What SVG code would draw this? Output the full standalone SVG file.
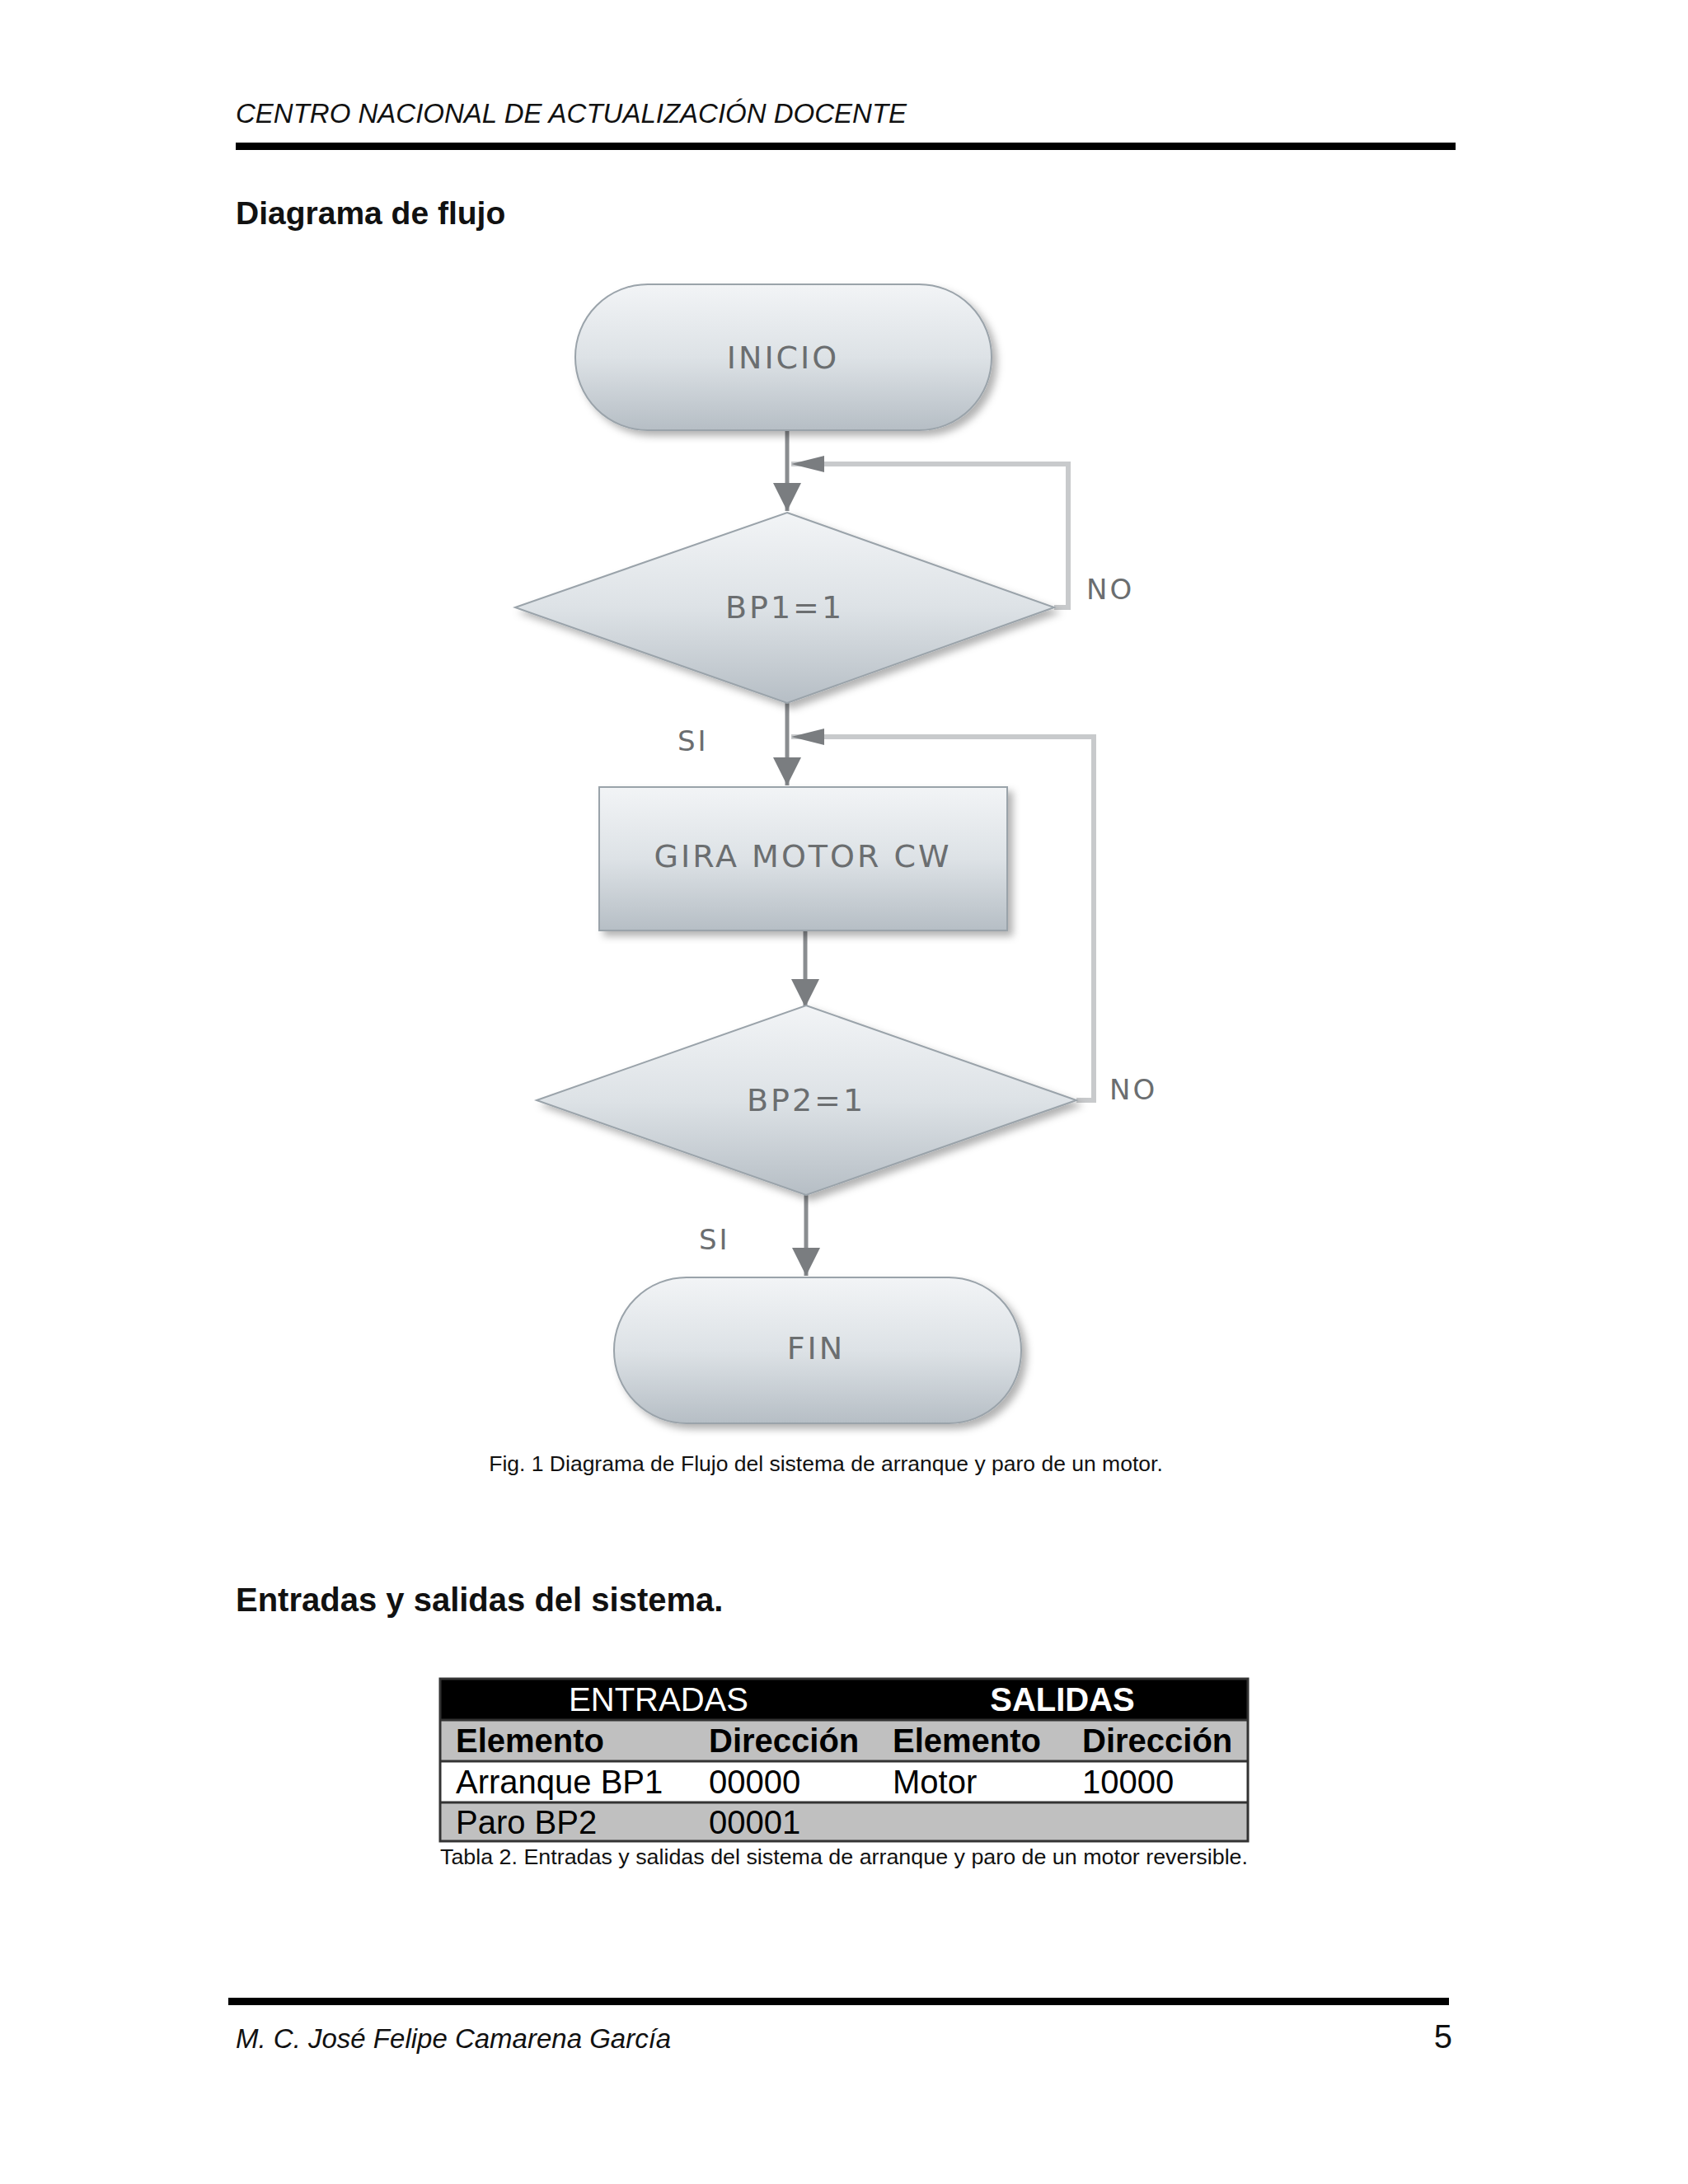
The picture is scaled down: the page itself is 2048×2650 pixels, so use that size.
<svg xmlns="http://www.w3.org/2000/svg" width="2048" height="2650" viewBox="0 0 2048 2650">
<style>
.sh{fill:url(#g);stroke:#9aa3aa;stroke-width:2;filter:url(#ds)}
.nt{font-family:"DejaVu Sans",sans-serif;font-size:38px;fill:#6b6e70;text-anchor:middle;letter-spacing:3px}
.lb{font-family:"DejaVu Sans",sans-serif;font-size:34px;fill:#6b6e70;letter-spacing:3px}
.cn{fill:none;stroke:#8a8d90;stroke-width:5}
.lp{fill:none;stroke:#c8cacc;stroke-width:6}
.tb{font-family:"Liberation Sans",Arial,sans-serif;font-size:40px}
</style>
<defs>
<linearGradient id="g" x1="0" y1="0" x2="0" y2="1"><stop offset="0" stop-color="#f2f4f6"/><stop offset="0.5" stop-color="#dde2e6"/><stop offset="1" stop-color="#b6bec5"/></linearGradient>
<filter id="ds" x="-10%" y="-10%" width="125%" height="130%"><feDropShadow dx="6" dy="6" stdDeviation="5" flood-color="#000" flood-opacity="0.3"/></filter>
<marker id="a" viewBox="0 0 10 10" refX="10" refY="5" markerWidth="38" markerHeight="34" orient="auto" markerUnits="userSpaceOnUse"><path d="M0,0 L10,5 L0,10 z" fill="#7a7d80"/></marker>
</defs>
<rect width="2048" height="2650" fill="#fff"/>
<text x="286" y="149" font-family="Liberation Sans,Arial,sans-serif" font-style="italic" font-size="33" fill="#111">CENTRO NACIONAL DE ACTUALIZACIÓN DOCENTE</text>
<rect x="286" y="173" width="1480" height="9" fill="#000"/>
<text x="286" y="272" font-family="Liberation Sans,Arial,sans-serif" font-weight="bold" font-size="39" fill="#111">Diagrama de flujo</text>

<g id="connectors">
<path class="lp" d="M1279,737 H1296 V563 H960"/>
<path d="M960,563 L1000,553 L1000,573 z" fill="#7a7d80"/>
<path class="lp" d="M1306,1335 H1327 V894 H960"/>
<path d="M960,894 L1000,884 L1000,904 z" fill="#7a7d80"/>
<line class="cn" x1="955" y1="522" x2="955" y2="620" marker-end="url(#a)"/>
<line class="cn" x1="955" y1="853" x2="955" y2="953" marker-end="url(#a)"/>
<line class="cn" x1="977" y1="1129" x2="977" y2="1222" marker-end="url(#a)"/>
<line class="cn" x1="978" y1="1450" x2="978" y2="1548" marker-end="url(#a)"/>
<text class="lb" x="1318" y="727">NO</text>
<text class="lb" x="822" y="911">SI</text>
<text class="lb" x="1346" y="1334">NO</text>
<text class="lb" x="848" y="1516">SI</text>
</g>
<g id="inicio"><rect class="sh" x="698" y="345" width="505" height="177" rx="88"/><text class="nt" x="950" y="447">INICIO</text></g>
<g id="bp1"><polygon class="sh" points="955,622 1279,737 955,853 625,737"/><text class="nt" x="952" y="750">BP1=1</text></g>
<g id="gira"><rect class="sh" x="727" y="955" width="495" height="174"/><text class="nt" x="974" y="1052">GIRA MOTOR CW</text></g>
<g id="bp2"><polygon class="sh" points="978,1220 1306,1335 978,1450 651,1335"/><text class="nt" x="978" y="1348">BP2=1</text></g>
<g id="fin"><rect class="sh" x="745" y="1550" width="494" height="177" rx="88"/><text class="nt" x="990" y="1649">FIN</text></g>

<text x="1002" y="1785" text-anchor="middle" font-family="Liberation Sans,Arial,sans-serif" font-size="26.5" fill="#111">Fig. 1 Diagrama de Flujo del sistema de arranque y paro de un motor.</text>
<text x="286" y="1955" font-family="Liberation Sans,Arial,sans-serif" font-weight="bold" font-size="40" fill="#111">Entradas y salidas del sistema.</text>

<g id="tabla">
<rect x="534" y="2037" width="980" height="50" fill="#000"/>
<rect x="534" y="2087" width="980" height="50" fill="#c0c0c0"/>
<rect x="534" y="2137" width="980" height="50" fill="#fff"/>
<rect x="534" y="2187" width="980" height="47" fill="#c0c0c0"/>
<rect x="534" y="2037" width="980" height="197" fill="none" stroke="#333" stroke-width="3"/>
<line x1="534" y1="2087" x2="1514" y2="2087" stroke="#333" stroke-width="3"/>
<line x1="534" y1="2137" x2="1514" y2="2137" stroke="#333" stroke-width="3"/>
<line x1="534" y1="2187" x2="1514" y2="2187" stroke="#333" stroke-width="3"/>
<text class="tb" x="799" y="2076" fill="#fff" text-anchor="middle">ENTRADAS</text>
<text class="tb" x="1289" y="2076" fill="#fff" text-anchor="middle" font-weight="bold">SALIDAS</text>
<text class="tb" x="553" y="2126" font-weight="bold">Elemento</text>
<text class="tb" x="860" y="2126" font-weight="bold">Dirección</text>
<text class="tb" x="1083" y="2126" font-weight="bold">Elemento</text>
<text class="tb" x="1313" y="2126" font-weight="bold">Dirección</text>
<text class="tb" x="553" y="2176">Arranque BP1</text>
<text class="tb" x="860" y="2176">00000</text>
<text class="tb" x="1083" y="2176">Motor</text>
<text class="tb" x="1313" y="2176">10000</text>
<text class="tb" x="553" y="2225">Paro BP2</text>
<text class="tb" x="860" y="2225">00001</text>
</g>
<text x="534" y="2262" textLength="980" lengthAdjust="spacingAndGlyphs" font-family="Liberation Sans,Arial,sans-serif" font-size="26" fill="#111">Tabla 2. Entradas y salidas del sistema de arranque y paro de un motor reversible.</text>

<rect x="277" y="2424" width="1481" height="9" fill="#000"/>
<text x="286" y="2485" font-family="Liberation Sans,Arial,sans-serif" font-style="italic" font-size="33" fill="#111">M. C. José Felipe Camarena García</text>
<text x="1762" y="2485" text-anchor="end" font-family="Liberation Sans,Arial,sans-serif" font-size="40" fill="#111">5</text>
</svg>
